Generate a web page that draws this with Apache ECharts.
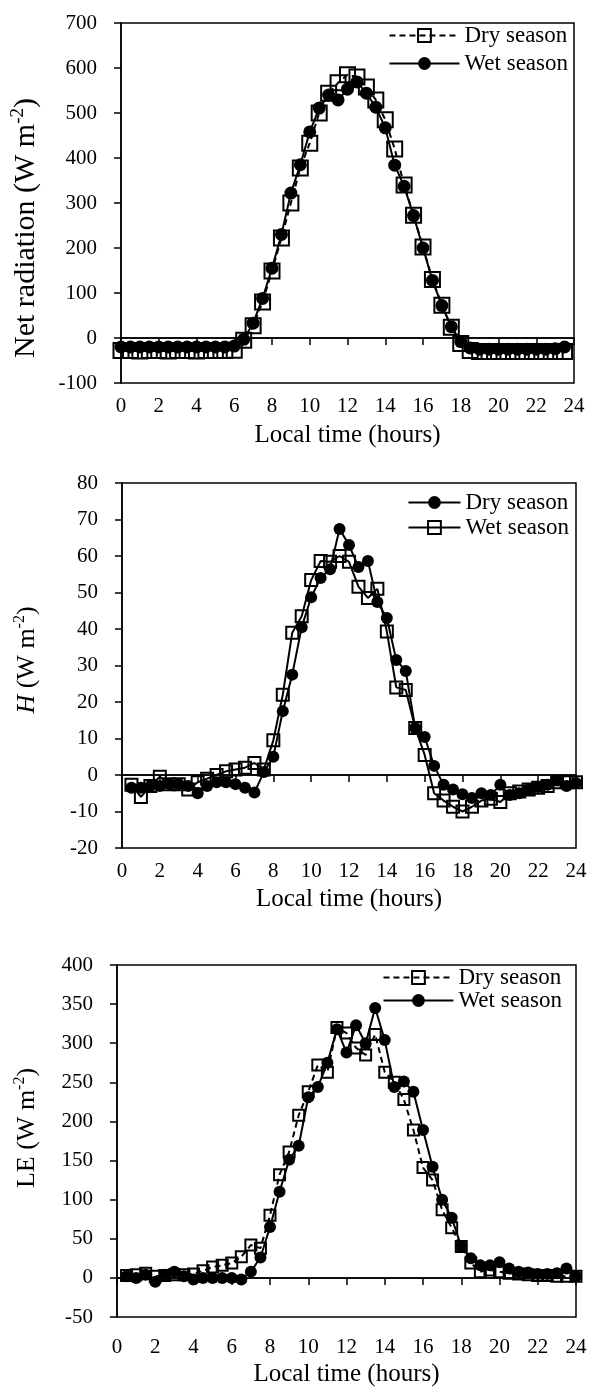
<!DOCTYPE html>
<html>
<head>
<meta charset="utf-8">
<script src="https://cdn.jsdelivr.net/npm/echarts@6/dist/echarts.min.js"></script>
<style>
  html, body { margin: 0; padding: 0; background: #fff; }
  #main { width: 593px; height: 1391px; }
</style>
</head>
<body>
<div id="main"></div>
<script>
// time of day (hours)
var hoursNR = [0,0.5,1,1.5,2,2.5,3,3.5,4,4.5,5,5.5,6,6.5,7,7.5,8,8.5,9,9.5,10,10.5,11,11.5,
               12,12.5,13,13.5,14,14.5,15,15.5,16,16.5,17,17.5,18,18.5,19,19.5,20,20.5,21,21.5,22,22.5,23,23.5];
var hoursFlux = [0.5,1,1.5,2,2.5,3,3.5,4,4.5,5,5.5,6,6.5,7,7.5,8,8.5,9,9.5,10,10.5,11,11.5,12,
                 12.5,13,13.5,14,14.5,15,15.5,16,16.5,17,17.5,18,18.5,19,19.5,20,20.5,21,21.5,22,22.5,23,23.5,24];

// net radiation (W m-2)
var nrDry = [-28,-28,-29,-28,-28,-29,-28,-28,-29,-28,-28,-28,-27,-5,27,80,149,222,300,378,433,500,544,567,
             585,580,558,529,485,420,340,273,202,130,73,24,-12,-28,-30,-30,-30,-30,-30,-30,-30,-30,-30,-30];
var nrWet = [-20,-20,-20,-20,-20,-20,-20,-20,-20,-20,-20,-20,-18,-3,33,88,155,230,322,385,458,511,540,529,
             553,569,544,513,467,384,337,272,200,128,72,25,-8,-22,-25,-25,-25,-25,-25,-25,-25,-25,-24,-20];

// sensible heat H (W m-2)
var hDry = [-3.5,-3.5,-3,-3,-2.5,-2.5,-3,-5,-3,-2,-2,-2.5,-3.5,-4.8,0.8,5,17.5,27.5,40.5,48.7,54,56.4,67.4,63,
            57,58.6,47.4,43,31.5,28.5,12.9,10.4,2.5,-2.7,-4,-5.3,-6.3,-5,-5.5,-2.7,-5.5,-5,-4,-3.3,-2.7,-1.5,-3,-2.2];
var hWet = [-2.7,-6,-3,-0.5,-2.5,-2.5,-4,-2,-1,0,1,1.5,2,3.3,1.5,9.5,22,39,43.5,53.4,58.6,58.4,60,58.4,
            51.6,48.5,51,39.3,24,23.3,12.9,5.5,-5,-7,-8.7,-10,-8.7,-7,-6.5,-7.4,-5,-4.5,-4,-3.5,-3,-2,-2,-2];

// latent heat LE (W m-2)
var leDry = [3,4,6,2,3,4,4,5,9,14,16,19,27,42,38,80,132,161,208,238,272,263,320,313,
             294,285,311,263,250,228,189,141,125,87,64,40,19,8,10,8,6,5,4,3,3,2,2,2];
var leWet = [2,0,4,-5,4,8,2,-2,0,0,0,0,-2,8,26,65,110,151,169,231,244,275,318,288,
             323,300,345,304,244,251,238,189,142,100,77,40,25,16,16,20,12,8,7,5,5,6,12,2];

var FONT = '"Liberation Serif", "Times New Roman", serif';

function pairs(hrs, vals) {
    return hrs.map(function (h, i) { return [h, vals[i]]; });
}

function mkSeries(name, hrs, vals, idx, open, dashed, size) {
    return {
        name: name,
        type: 'line',
        xAxisIndex: idx,
        yAxisIndex: idx,
        data: pairs(hrs, vals),
        symbol: open ? 'rect' : 'circle',
        symbolSize: size,
        lineStyle: { color: '#000', width: 2, type: dashed ? [6, 4] : 'solid' },
        itemStyle: open ? { color: 'rgba(255,255,255,0)', borderColor: '#000', borderWidth: 2 }
                        : { color: '#000', borderColor: '#000', borderWidth: 0 },
        emphasis: { disabled: true },
        animation: false
    };
}

function zeroLine() {
    return {
        silent: true,
        symbol: 'none',
        label: { show: false },
        lineStyle: { color: '#000', type: 'solid', width: 1.5 },
        data: [{ yAxis: 0 }],
        animation: false
    };
}

function xAx(idx, margin, gap) {
    return {
        type: 'value', gridIndex: idx, min: 0, max: 24, interval: 2,
        name: 'Local time (hours)', nameLocation: 'middle', nameGap: gap,
        nameTextStyle: { fontFamily: FONT, fontSize: 25, color: '#000' },
        axisLine: { lineStyle: { color: '#000', width: 1.5 } },
        axisTick: { length: 7, lineStyle: { color: '#000', width: 1.5 } },
        axisLabel: { fontFamily: FONT, fontSize: 21, color: '#000', margin: margin },
        splitLine: { show: false }
    };
}

function yAx(idx, min, max, step) {
    return {
        type: 'value', gridIndex: idx, min: min, max: max, interval: step,
        axisLine: { onZero: false, lineStyle: { color: '#000', width: 1.5 } },
        axisTick: { length: 7, lineStyle: { color: '#000', width: 1.5 } },
        axisLabel: { fontFamily: FONT, fontSize: 21, color: '#000', margin: 24 },
        splitLine: { show: false }
    };
}

function lgd(names, top, right, w, gap) {
    return {
        data: names, orient: 'vertical', top: top, right: right, padding: 0,
        itemWidth: w, itemHeight: 16, itemGap: gap,
        selectedMode: false,
        formatter: function (n) { return n.trim(); },
        textStyle: { fontFamily: FONT, fontSize: 23, color: '#000' }
    };
}

function yTitle(x, y, size, parts) {
    return {
        type: 'text', x: x, y: y, rotation: Math.PI / 2,
        style: {
            text: parts, x: 0, y: 0, align: 'center', verticalAlign: 'middle',
            fill: '#000',
            rich: {
                n: { fontFamily: FONT, fontSize: size, lineHeight: size + 4, fill: '#000' },
                i: { fontFamily: FONT, fontSize: size, lineHeight: size + 4, fontStyle: 'italic', fill: '#000' },
                s: { fontFamily: FONT, fontSize: Math.round(size * 0.62), lineHeight: Math.round(size * 0.62),
                     verticalAlign: 'top', fill: '#000' }
            }
        }
    };
}

var sNR1 = mkSeries('Dry season', hoursNR, nrDry, 0, true, true, 15);
var sNR2 = mkSeries('Wet season', hoursNR, nrWet, 0, false, false, 13);
sNR1.markLine = zeroLine();
var sH1 = mkSeries('Dry season ', hoursFlux, hDry, 1, false, false, 12);
var sH2 = mkSeries('Wet season ', hoursFlux, hWet, 1, true, false, 12);
sH1.markLine = zeroLine();
var sLE1 = mkSeries('Dry season  ', hoursFlux, leDry, 2, true, true, 11);
var sLE2 = mkSeries('Wet season  ', hoursFlux, leWet, 2, false, false, 12);
sLE1.markLine = zeroLine();

var chart = echarts.init(document.getElementById('main'));
chart.setOption({
    backgroundColor: '#fff',
    animation: false,
    grid: [
        { left: 121, top: 23, width: 453, height: 360, show: true, borderColor: '#000', borderWidth: 1.5 },
        { left: 122, top: 483, width: 454, height: 365, show: true, borderColor: '#000', borderWidth: 1.5 },
        { left: 117, top: 965, width: 459, height: 352, show: true, borderColor: '#000', borderWidth: 1.5 }
    ],
    xAxis: [xAx(0, 13, 40), xAx(1, 13, 39), xAx(2, 20, 45)],
    yAxis: [yAx(0, -100, 700, 100), yAx(1, -20, 80, 10), yAx(2, -50, 400, 50)],
    legend: [
        lgd(['Dry season', 'Wet season'], 24, 25, 70, 5),
        lgd(['Dry season ', 'Wet season '], 491, 24, 52, 2),
        lgd(['Dry season  ', 'Wet season  '], 966, 31, 70, 0)
    ],
    graphic: [
        yTitle(26, 228, 30, '{n|Net radiation (W m}{s|-2}{n|)}'),
        yTitle(27, 660, 26, '{i|H}{n| (W m}{s|-2}{n|)}'),
        yTitle(27, 1128, 26, '{n|LE (W m}{s|-2}{n|)}')
    ],
    series: [sNR1, sNR2, sH1, sH2, sLE1, sLE2]
});
</script>
</body>
</html>
